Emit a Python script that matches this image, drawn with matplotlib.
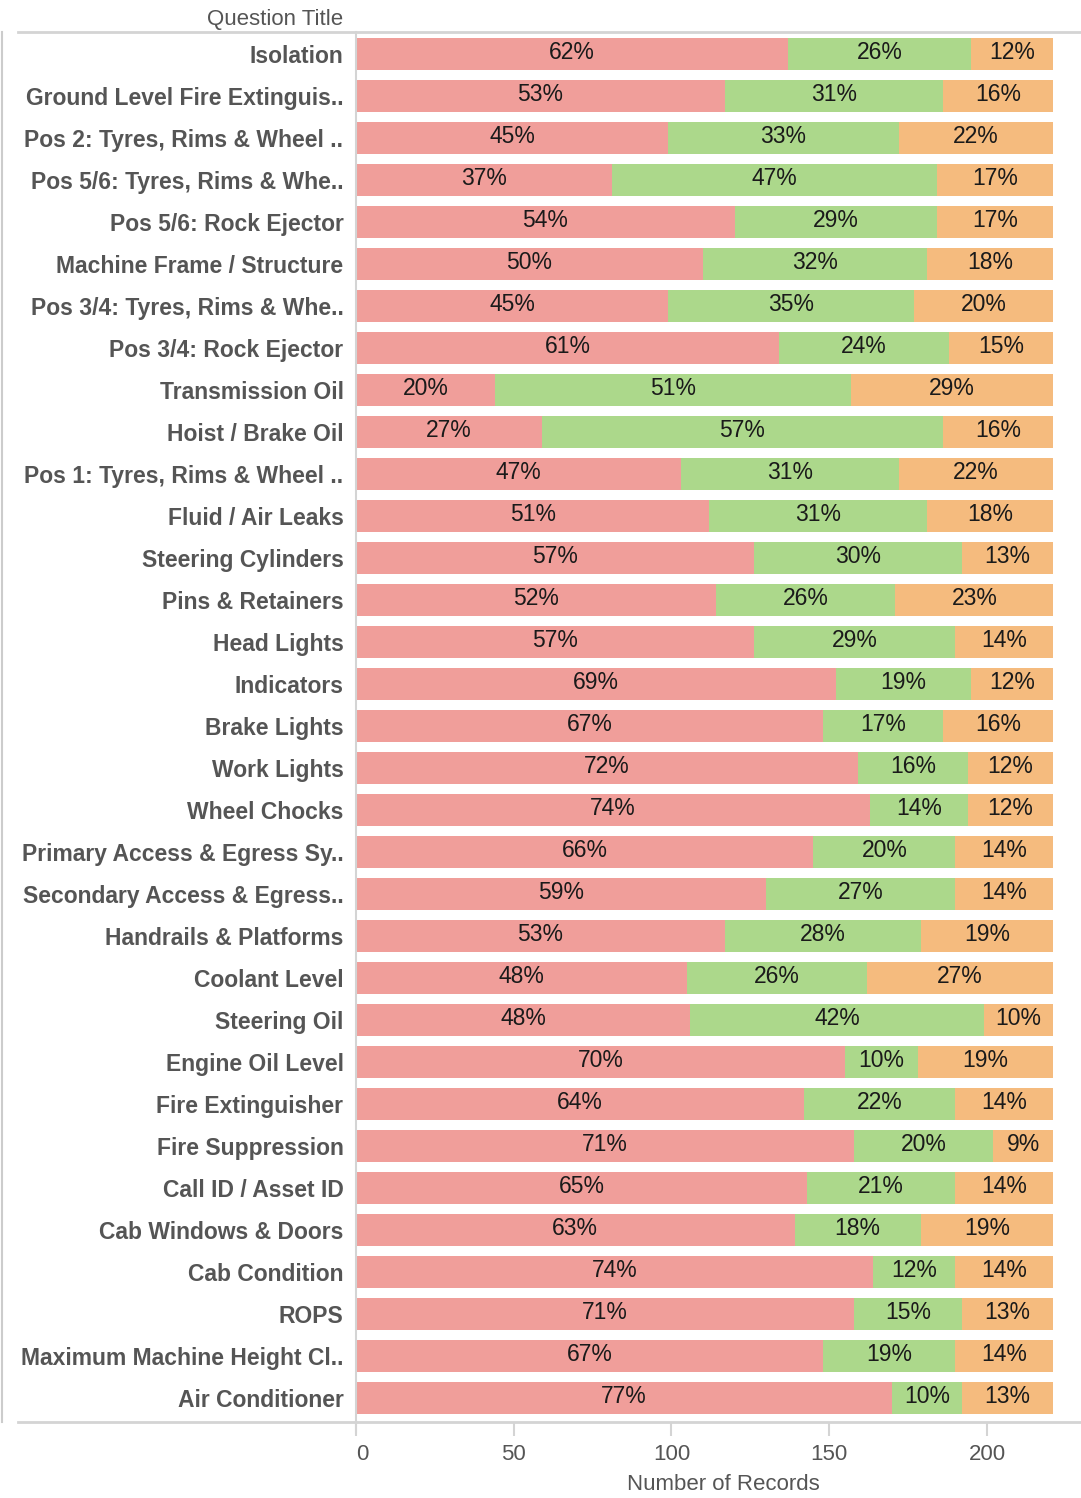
import matplotlib
matplotlib.use("Agg")
import matplotlib.pyplot as plt
from matplotlib.lines import Line2D
import numpy as np

plt.rcParams['font.family'] = ['Liberation Sans', 'DejaVu Sans']

questions = [
    "Isolation", "Ground Level Fire Extinguis..", "Pos 2: Tyres, Rims & Wheel ..",
    "Pos 5/6: Tyres, Rims & Whe..", "Pos 5/6: Rock Ejector", "Machine Frame / Structure",
    "Pos 3/4: Tyres, Rims & Whe..", "Pos 3/4: Rock Ejector", "Transmission Oil",
    "Hoist / Brake Oil", "Pos 1: Tyres, Rims & Wheel ..", "Fluid / Air Leaks",
    "Steering Cylinders", "Pins & Retainers", "Head Lights", "Indicators",
    "Brake Lights", "Work Lights", "Wheel Chocks", "Primary Access & Egress Sy..",
    "Secondary Access & Egress..", "Handrails & Platforms", "Coolant Level",
    "Steering Oil", "Engine Oil Level", "Fire Extinguisher", "Fire Suppression",
    "Call ID / Asset ID", "Cab Windows & Doors", "Cab Condition", "ROPS",
    "Maximum Machine Height Cl..", "Air Conditioner",
]
red_counts = [137, 117, 99, 81, 120, 110, 99, 134, 44, 59, 103, 112, 126, 114, 126, 152,
              148, 159, 163, 145, 130, 117, 105, 106, 155, 142, 158, 143, 139, 164, 158, 148, 170]
green_counts = [58, 69, 73, 103, 64, 71, 78, 54, 113, 127, 69, 69, 66, 57, 64, 43,
                38, 35, 31, 45, 60, 62, 57, 93, 23, 48, 44, 47, 40, 26, 34, 42, 22]
orange_counts = [26, 35, 49, 37, 37, 40, 44, 33, 64, 35, 49, 40, 29, 50, 31, 26,
                 35, 27, 27, 31, 31, 42, 59, 22, 43, 31, 19, 31, 42, 31, 29, 31, 29]
red_pct = [62, 53, 45, 37, 54, 50, 45, 61, 20, 27, 47, 51, 57, 52, 57, 69,
           67, 72, 74, 66, 59, 53, 48, 48, 70, 64, 71, 65, 63, 74, 71, 67, 77]
green_pct = [26, 31, 33, 47, 29, 32, 35, 24, 51, 57, 31, 31, 30, 26, 29, 19,
             17, 16, 14, 20, 27, 28, 26, 42, 10, 22, 20, 21, 18, 12, 15, 19, 10]
orange_pct = [12, 16, 22, 17, 17, 18, 20, 15, 29, 16, 22, 18, 13, 23, 14, 12,
              16, 12, 12, 14, 14, 19, 27, 10, 19, 14, 9, 14, 19, 14, 13, 14, 13]
x_ticks = [0, 50, 100, 150, 200]

W, H = 1081, 1498
fig = plt.figure(figsize=(W / 100, H / 100), dpi=100)
ax_left = 356 / W
ax_bottom = 1 - 1422 / H
ax_height = (1422 - 32) / H
ax = fig.add_axes([ax_left, ax_bottom, 1 - ax_left, ax_height])

colors = ['#F09E9A', '#ACD88B', '#F5BB7E']
series = [red_counts, green_counts, orange_counts]
pcts = [red_pct, green_pct, orange_pct]
y = np.arange(len(questions))
left = np.zeros(len(questions))
for vals, pc, col in zip(series, pcts, colors):
    vals = np.array(vals, dtype=float)
    ax.barh(y, vals, left=left, height=0.76, color=col, edgecolor='none', zorder=2)
    for i in range(len(questions)):
        ax.text(left[i] + vals[i] / 2, y[i] - 0.03, f"{pc[i]}%", ha='center', va='center',
                fontsize=16.5, color='#1a1a1a', zorder=3)
    left += vals

ax.set_ylim(32.58, -0.52)
ax.set_xlim(0, 229.8)
ax.set_yticks(y)
ax.set_yticklabels(questions, fontsize=16.5, fontweight='bold', color='#555555')
ax.tick_params(axis='y', length=0, pad=9)
ax.set_xticks(x_ticks)
ax.set_xticklabels([str(t) for t in x_ticks], fontsize=16, color='#555555')
ax.tick_params(axis='x', length=10, width=1.5, color='#d4d4d4', pad=6)
labs = ax.get_xticklabels()
labs[0].set_horizontalalignment('left')
for s in ['top', 'right', 'bottom']:
    ax.spines[s].set_visible(False)
ax.spines['left'].set_color('#d4d4d4')
ax.spines['left'].set_linewidth(1.5)
fig.text(723 / W, 1 - 1484 / H, "Number of Records", ha='center', va='center',
         fontsize=16, color='#555555')

# header / footer lines
fig.add_artist(Line2D([18 / W, 1.0], [1 - 32 / H] * 2, color='#d4d4d4', lw=2))
fig.add_artist(Line2D([18 / W, 1.0], [1 - 1422 / H] * 2, color='#d4d4d4', lw=2))
fig.add_artist(Line2D([2 / W] * 2, [1 - 32 / H, 1 - 1422 / H], color='#cccccc', lw=1.5))
fig.add_artist(Line2D([356 / W] * 2, [1 - 1422 / H, 1 - 1432 / H], color='#d4d4d4', lw=1.5))
fig.text(343 / W, 1 - 19 / H, "Question Title", ha='right', va='center', fontsize=16,
         color='#555555')

fig.savefig("out.png", dpi=100, facecolor='white')
